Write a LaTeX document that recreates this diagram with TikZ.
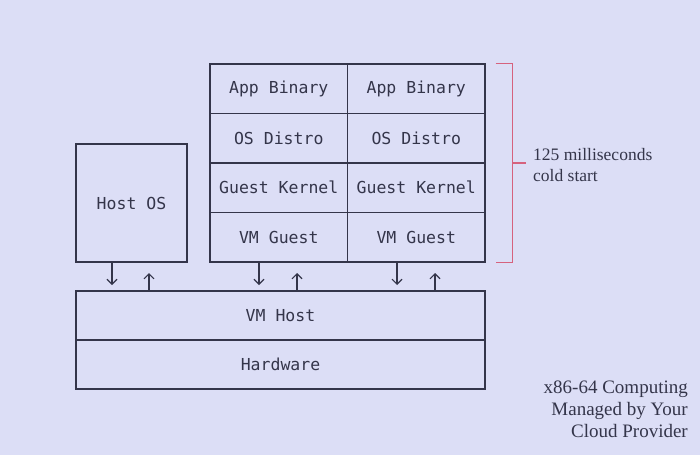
\documentclass[tikz,border=0pt]{standalone}
\usepackage{fontspec}
\setmainfont{Liberation Serif}
\setmonofont{DejaVu Sans Mono}
\usetikzlibrary{arrows.meta}

\definecolor{bgcol}{HTML}{DCDEF6}
\definecolor{inkcol}{HTML}{34354A}
\definecolor{brcol}{HTML}{D6627E}

\tikzset{
  layer/.style={shape=rectangle,draw=inkcol,line width=1.1pt,text=inkcol,
    font=\ttfamily\fontsize{16.5}{19}\selectfont,inner sep=0pt},
  cell/.style={layer,minimum width=137.5pt,minimum height=49.5pt},
  flow/.style={->,draw=inkcol,line width=1.1pt},
  bracket/.style={draw=brcol,line width=1.6pt},
  note/.style={text=inkcol,inner sep=0pt}
}

\begin{document}
\begin{tikzpicture}[x=1pt,y=-1pt,>={Straight Barb[length=5pt,width=10pt]}]
\fill[bgcol] (0,0) rectangle (700,455);
\useasboundingbox (0,0) rectangle (700,455);

% guest stacks
\node (ab1) at (278.75, 88.75) [cell] {App Binary};
\node (ab2) at (416.25, 88.75) [cell] {App Binary};
\node (os1) at (278.75,138.25) [cell] {OS Distro};
\node (os2) at (416.25,138.25) [cell] {OS Distro};
\node (gk1) at (278.75,187.75) [cell] {Guest Kernel};
\node (gk2) at (416.25,187.75) [cell] {Guest Kernel};
\node (vg1) at (278.75,237.25) [cell] {VM Guest};
\node (vg2) at (416.25,237.25) [cell] {VM Guest};

\node (hostos) at (131.5,203) [layer,minimum width=111pt,minimum height=118pt] {Host OS};

% host layers
\node (vmhost) at (280.5,315.5) [layer,minimum width=409pt,minimum height=49pt] {VM Host};
\node (hw)     at (280.5,364.5) [layer,minimum width=409pt,minimum height=49pt] {Hardware};

% arrows
\coordinate (d1) at (112,285);
\coordinate (u1) at (149,273);
\coordinate (d2) at (259,285);
\coordinate (u2) at (297,273);
\coordinate (d3) at (397,285);
\coordinate (u3) at (435,273);
\draw [flow] (hostos.south -| d1) -- (d1);
\draw [flow] (vmhost.north -| u1) -- (u1);
\draw [flow] (vg1.south -| d2) -- (d2);
\draw [flow] (vmhost.north -| u2) -- (u2);
\draw [flow] (vg2.south -| d3) -- (d3);
\draw [flow] (vmhost.north -| u3) -- (u3);

% cold start bracket
\draw [bracket] ([xshift=10pt]ab2.north east) -- ++(17,0) coordinate (brtop)
  -- ([xshift=27pt]vg2.south east) -- ++(-17,0);
\coordinate (brmid) at ([xshift=27pt,yshift=-0.5pt]gk2.north east);
\draw [bracket] (brmid) -- ++(13,0);
\node (cold) at (533,165) [note,anchor=west,align=left,
  font=\fontsize{17.5}{21}\selectfont] {125 milliseconds\\cold start};

\node (provider) at (688,409) [note,anchor=east,align=right,
  font=\fontsize{19}{22}\selectfont] {x86-64 Computing\\Managed by Your\\Cloud Provider};
\end{tikzpicture}
\end{document}
